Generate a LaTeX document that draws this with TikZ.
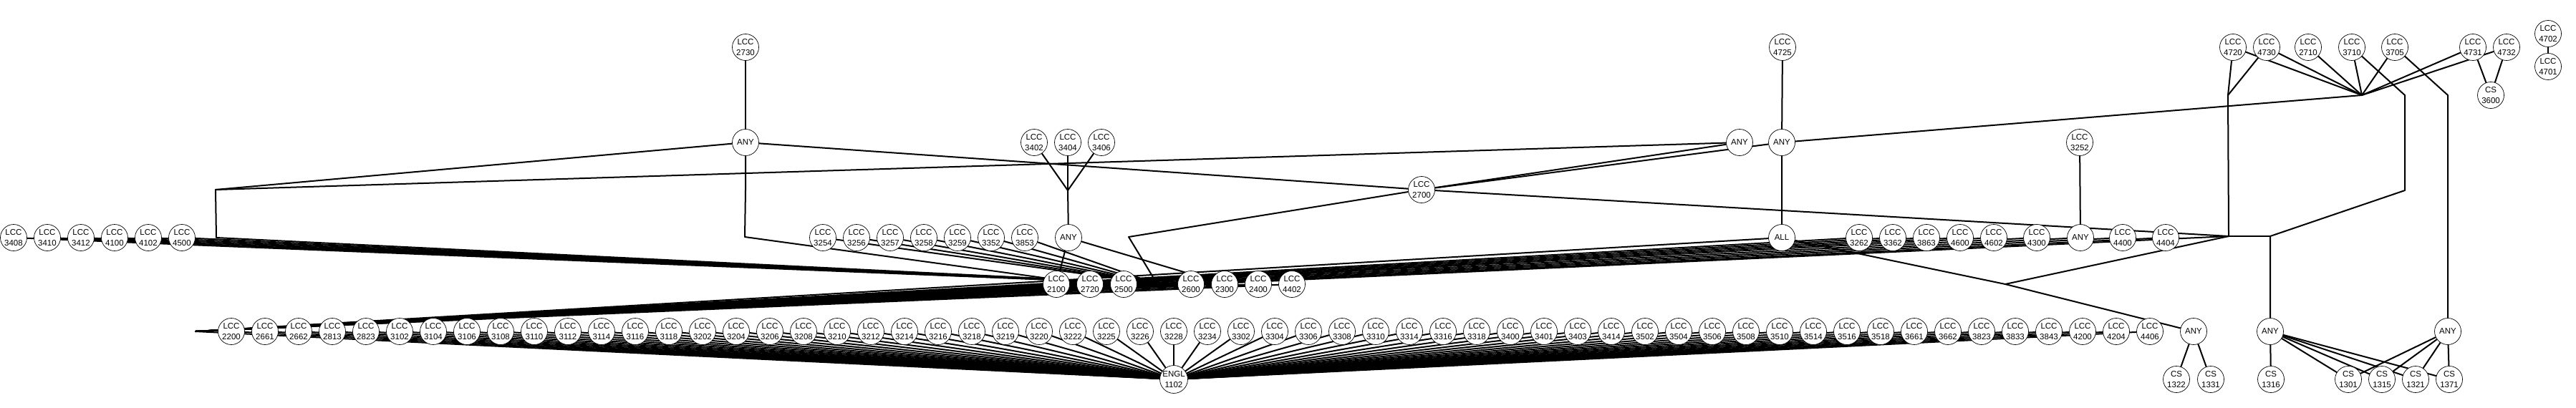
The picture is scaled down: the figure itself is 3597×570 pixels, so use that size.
\documentclass[tikz,border=0pt]{standalone}
\usepackage{fontspec}
\setmainfont{Liberation Sans}

\pgfdeclarelayer{edges}
\pgfsetlayers{edges,main}

\tikzset{
  course/.style={circle,draw,fill=white,minimum size=37pt,inner sep=0pt,line width=0.7pt,
    font=\fontsize{11.5}{15}\selectfont,align=center},
  link/.style={line width=2pt,line join=round,line cap=round}
}
\newcommand\rowb{2200,2661,2662,2813,2823,3102,3104,3106,3108,3110,3112,3114,3116,3118,
  3202,3204,3206,3208,3210,3212,3214,3216,3218,3219,3220,3222,3225,3226,3228,3234,3302,
  3304,3306,3308,3310,3314,3316,3318,3400,3401,3403,3414,3502,3504,3506,3508,3510,3514,
  3516,3518,3661,3662,3823,3833,3843,4200,4204,4406}

\begin{document}
\begin{tikzpicture}[x=1pt,y=-1pt]
\useasboundingbox (0,0) rectangle (3597,570);

% top layer
\node[course] (lcc2730) at (1041,66) {LCC\\2730};
\node[course] (lcc4725) at (2489,66) {LCC\\4725};
\foreach \n/\x in {4720/3118,4730/3165,2710/3223,3710/3284,3705/3344,4731/3453,4732/3500}
  \node[course] (lcc\n) at (\x,66) {LCC\\\n};
\node[course] (lcc4702) at (3558,47) {LCC\\4702};
\node[course] (lcc4701) at (3558,93) {LCC\\4701};
\node[course] (cs3600) at (3478,133) {CS\\3600};

% second layer
\node[course] (any1) at (1041,199) {ANY};
\foreach \n/\x in {3402/1444,3404/1491,3406/1538}
  \node[course] (lcc\n) at (\x,199) {LCC\\\n};
\node[course] (any2) at (2429,199) {ANY};
\node[course] (any3) at (2488,199) {ANY};
\node[course] (lcc3252) at (2904,199) {LCC\\3252};
\node[course] (lcc2700) at (1985,265) {LCC\\2700};

% middle layer
\foreach \n [count=\i from 0] in {3408,3410,3412,4100,4102,4500}
  \node[course] (lcc\n) at ({19+47*\i},332) {LCC\\\n};
\foreach \n [count=\i from 0] in {3254,3256,3257,3258,3259,3352,3853}
  \node[course] (lcc\n) at ({1149+47*\i},332) {LCC\\\n};
\node[course] (any4) at (1492,332) {ANY};
\node[course] (all) at (2488,332) {ALL};
\foreach \n/\x in {3262/2596,3362/2643,3863/2690,4600/2737,4602/2784,4300/2844,4400/2964,4404/3024}
  \node[course] (lcc\n) at (\x,332) {LCC\\\n};
\node[course] (any5) at (2905,332) {ANY};

\foreach \n/\x in {2100/1475,2720/1522,2500/1569,2600/1663,2300/1710,2400/1757,4402/1804}
  \node[course] (lcc\n) at (\x,397) {LCC\\\n};

% bottom rows
\foreach \n [count=\i from 0] in \rowb
  \node[course] (lcc\n) at ({323+47*\i},463) {LCC\\\n};
\node[course] (any6) at (3063,463) {ANY};
\node[course] (any7) at (3170,463) {ANY};
\node[course] (any8) at (3418,463) {ANY};

\node[course] (engl1102) at (1639,530) {ENGL\\1102};
\foreach \n/\x in {1322/3039,1331/3087,1316/3171,1301/3279,1315/3326,1321/3373,1371/3420}
  \node[course] (cs\n) at (\x,530) {CS\\\n};

% bend points
\coordinate (d6a) at (273,463);
\coordinate (dC) at (1616,397);
\coordinate (dL) at (301,265);
\coordinate (dJ) at (302,332);
\coordinate (dV1) at (1041,265);
\coordinate (dV2) at (1040,331);
\coordinate (dS) at (1576,331);
\coordinate (dA) at (1491,266);
\coordinate (dE) at (2800,397);
\coordinate (dK) at (3112,330);
\coordinate (dT) at (3111,133);
\coordinate (dJ1) at (3298,133);
\coordinate (dM) at (3170,330);
\coordinate (dR1) at (3358,133);
\coordinate (dR2) at (3358,266);
\coordinate (dQ) at (3418,133);

\begin{pgfonlayer}{edges}
\foreach \n in \rowb
  \draw[link] (engl1102) -- (lcc\n);
\draw[link] (engl1102) -- (d6a);
\foreach \t in {lcc2100,lcc2720,lcc2500,dC,lcc2600,lcc2300,lcc2400,lcc4402,all,
    lcc3262,lcc3362,lcc3863,lcc4600,lcc4602,lcc4300,any5,lcc4400,lcc4404,dK}
  \draw[link] (d6a) -- (\t);
\foreach \n in {3408,3410,3412,4100,4102,4500,3254,3256,3257,3258,3259,3352,3853}
  \draw[link] (lcc\n) -- (dC);

\draw[link] (lcc2730) -- (any1);
\draw[link] (any1) -- (dL) -- (dJ) -- (dC);
\draw[link] (any2) -- (dL);
\draw[link] (any1) -- (dV1) -- (dV2) -- (lcc2720);
\draw[link] (any1) -- (lcc2700);
\draw[link] (any2) -- (lcc2700);
\draw[link] (any3) -- (lcc2700);
\draw[link] (lcc2700) -- (dS) -- (dC);
\draw[link] (lcc2700) -- (dK);

\draw[link] (lcc3402) -- (dA) -- (any4);
\draw[link] (lcc3404) -- (dA);
\draw[link] (lcc3406) -- (dA);
\draw[link] (any4) -- (lcc2100);
\draw[link] (any4) -- (lcc2300);

\draw[link] (lcc4725) -- (any3) -- (all);
\draw[link] (lcc3252) -- (any5);
\draw[link] (all) -- (dE) -- (any6);
\draw[link] (dK) -- (dE);

\draw[link] (lcc4720) -- (dT) -- (dK);
\draw[link] (lcc4730) -- (dT);
\foreach \n in {4720,4730,2710,3710,3705,4731,4732}
  \draw[link] (lcc\n) -- (dJ1);
\draw[link] (dJ1) -- (any3);
\draw[link] (lcc3710) -- (dR1) -- (dR2) -- (dM) -- (any7);
\draw[link] (dK) -- (dM);
\draw[link] (lcc3705) -- (dQ) -- (any8);

\draw[link] (any6) -- (cs1322);
\draw[link] (any6) -- (cs1331);
\foreach \n in {1316,1301,1315,1321,1371}
  \draw[link] (any7) -- (cs\n);
\foreach \n in {1301,1315,1321,1371}
  \draw[link] (any8) -- (cs\n);
\draw[link] (cs3600) -- (lcc4731);
\draw[link] (cs3600) -- (lcc4732);
\draw[link] (lcc4702) -- (lcc4701);
\end{pgfonlayer}
\end{tikzpicture}
\end{document}
